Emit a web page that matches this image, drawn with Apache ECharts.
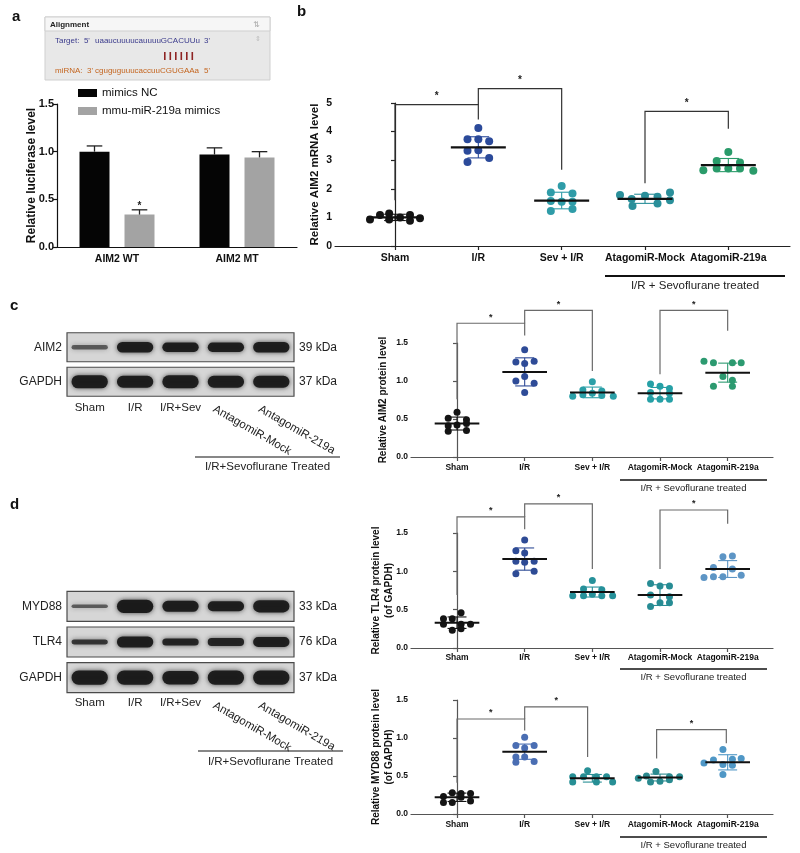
<!DOCTYPE html>
<html><head><meta charset="utf-8">
<script src="https://cdn.jsdelivr.net/npm/echarts@6/dist/echarts.min.js"></script>
<style>html,body{margin:0;padding:0;background:#fff}#c{width:800px;height:853px}</style>
</head><body><div id="c"></div>
<script>
const FONT = '"Liberation Sans", Arial, Helvetica, sans-serif';

// ---------- shared labels ----------
const groupLabels = ['Sham', 'I/R', 'Sev + I/R', 'AtagomiR-Mock', 'AtagomiR-219a'];
const laneLabels = ['Sham', 'I/R', 'I/R+Sev', 'AntagomiR-Mock', 'AntagomiR-219a'];
const proteinTicks = ['0.0', '0.5', '1.0', '1.5'];
const mrnaTicks = ['0', '1', '2', '3', '4', '5'];

// ---------- panel a ----------
const lucCategories = ['AIM2 WT', 'AIM2 MT'];
const lucNC = [1.00, 0.97];
const lucNCErr = [0.06, 0.07];
const lucMimics = [0.34, 0.94];
const lucMimicsErr = [0.05, 0.06];
const lucSig = [1, 0];

// ---------- panel b : AIM2 mRNA ----------
const mrnaVals = [
  [0.93, 1.08, 1.14, 0.93, 1.00, 1.08, 0.88, 0.97],
  [4.13, 3.73, 3.73, 3.66, 3.33, 3.35, 2.94, 3.08],
  [2.10, 1.87, 1.84, 1.57, 1.55, 1.55, 1.22, 1.29],
  [1.78, 1.64, 1.76, 1.72, 1.87, 1.40, 1.49, 1.60],
  [3.29, 2.97, 2.92, 2.65, 2.71, 2.71, 2.71, 2.63]];
const mrnaJitter = [
  [-0.30, -0.18, -0.07, -0.07, 0.06, 0.18, 0.18, 0.30],
  [0, -0.13, 0, 0.13, -0.13, 0, -0.13, 0.13],
  [0, -0.13, 0.13, -0.13, 0, 0.13, -0.13, 0.13],
  [-0.30, -0.16, 0, 0.15, 0.30, -0.15, 0.15, 0.30],
  [0, -0.14, 0.14, -0.30, -0.14, 0, 0.14, 0.30]];
const mrnaMean = [1.00, 3.45, 1.59, 1.65, 2.83];
const mrnaSD = [0.11, 0.37, 0.29, 0.16, 0.23];
const mrnaBrackets = [[0, 1.60, 1, 4.42, 4.94], [1, 4.94, 2, 2.67, 5.50], [3, 2.19, 4, 4.10, 4.71]];

// ---------- panel c : AIM2 protein ----------
const aim2Vals = [
  [0.59, 0.51, 0.49, 0.41, 0.42, 0.44, 0.34, 0.35],
  [1.41, 1.25, 1.23, 1.26, 1.00, 1.06, 0.97, 0.85],
  [0.99, 0.88, 0.87, 0.80, 0.82, 0.84, 0.81, 0.80],
  [0.96, 0.93, 0.90, 0.85, 0.84, 0.76, 0.76, 0.76],
  [1.26, 1.24, 1.24, 1.24, 1.06, 1.01, 0.93, 0.93]];
const aim2Jitter = [
  [0, -0.13, 0.14, -0.13, 0, 0.14, -0.13, 0.14],
  [0, -0.13, 0, 0.14, -0.13, 0, 0.14, 0],
  [0, -0.14, 0.14, -0.29, -0.14, 0, 0.14, 0.31],
  [-0.14, 0, 0.14, -0.14, 0.14, -0.14, 0, 0.14],
  [-0.35, -0.21, 0.07, 0.20, -0.07, 0.07, -0.21, 0.07]];
const aim2Mean = [0.44, 1.12, 0.85, 0.84, 1.11];
const aim2SD = [0.085, 0.185, 0.07, 0.075, 0.125];
const aim2Brackets = [[0, 0.76, 1, 1.60, 1.76], [1, 1.76, 2, 1.13, 1.93], [3, 1.09, 4, 1.66, 1.93]];

// ---------- panel d : TLR4 ----------
const tlr4Vals = [
  [0.46, 0.38, 0.38, 0.31, 0.31, 0.31, 0.23, 0.25],
  [1.41, 1.27, 1.24, 1.13, 1.12, 1.13, 0.97, 1.00],
  [0.88, 0.77, 0.76, 0.68, 0.68, 0.70, 0.68, 0.68],
  [0.84, 0.81, 0.81, 0.69, 0.67, 0.54, 0.59, 0.59],
  [1.19, 1.20, 1.05, 1.03, 0.92, 0.93, 0.93, 0.95]];
const tlr4Jitter = [
  [0.06, -0.20, -0.07, -0.20, 0.06, 0.20, -0.07, 0.06],
  [0, -0.13, 0, -0.13, 0, 0.14, -0.13, 0.14],
  [0, -0.13, 0.14, -0.29, -0.13, 0, 0.14, 0.30],
  [-0.14, 0, 0.14, -0.14, 0.14, -0.14, 0, 0.14],
  [-0.07, 0.07, -0.21, 0.07, -0.35, -0.21, -0.07, 0.20]];
const tlr4Mean = [0.33, 1.16, 0.73, 0.69, 1.03];
const tlr4SD = [0.075, 0.145, 0.065, 0.135, 0.11];
const tlr4Brackets = [[0, 0.69, 1, 1.55, 1.71], [1, 1.71, 2, 1.03, 1.88], [3, 1.03, 4, 1.62, 1.80]];

// ---------- panel d : MYD88 ----------
const myd88Vals = [
  [0.28, 0.27, 0.27, 0.23, 0.22, 0.15, 0.15, 0.17],
  [1.01, 0.90, 0.90, 0.87, 0.75, 0.75, 0.68, 0.69],
  [0.57, 0.49, 0.49, 0.49, 0.49, 0.42, 0.42, 0.42],
  [0.56, 0.50, 0.49, 0.49, 0.47, 0.42, 0.43, 0.45],
  [0.85, 0.71, 0.72, 0.73, 0.67, 0.65, 0.64, 0.52]];
const myd88Jitter = [
  [-0.07, 0.06, 0.20, -0.20, 0.06, -0.20, -0.07, 0.20],
  [0, -0.13, 0.14, 0, -0.13, 0, -0.13, 0.14],
  [-0.07, -0.29, -0.13, 0.06, 0.21, -0.29, 0.06, 0.30],
  [-0.06, -0.20, 0.14, 0.29, -0.32, -0.14, 0, 0.14],
  [-0.07, -0.21, 0.07, 0.20, -0.35, -0.07, 0.07, -0.07]];
const myd88Mean = [0.22, 0.82, 0.47, 0.48, 0.68];
const myd88SD = [0.055, 0.10, 0.05, 0.045, 0.10];
const myd88Brackets = [[0, 0.41, 1, 1.10, 1.25], [1, 1.25, 1.93, 0.75, 1.41], [2.95, 0.73, 3.98, 0.93, 1.11]];

// ---------- western blots (band thickness / intensity per lane) ----------
const blotCRows = ['AIM2', 'GAPDH'];
const blotCSizes = ['39 kDa', '37 kDa'];
const blotCThick = [[0.13, 0.31, 0.27, 0.27, 0.30], [0.38, 0.35, 0.37, 0.35, 0.35]];
const blotCDark = [[0.6, 0.95, 0.95, 0.95, 0.95], [0.95, 0.95, 0.95, 0.95, 0.95]];
const blotDRows = ['MYD88', 'TLR4', 'GAPDH'];
const blotDSizes = ['33 kDa', '76 kDa', '37 kDa'];
const blotDThick = [[0.10, 0.37, 0.31, 0.28, 0.34], [0.14, 0.31, 0.20, 0.22, 0.28], [0.40, 0.40, 0.38, 0.40, 0.40]];
const blotDDark = [[0.6, 0.97, 0.95, 0.95, 0.95], [0.8, 0.95, 0.9, 0.9, 0.95], [0.95, 0.95, 0.95, 0.95, 0.95]];

// ---------- colours ----------
const colB = ['#141414', '#2b4a9a', '#2f9ca8', '#2a8f9a', '#2a9b6a'];
const colC = ['#141414', '#2e4b97', '#2ba0a8', '#26a0a6', '#2c9a70'];
const colT = ['#141414', '#2e4b95', '#26919a', '#278c94', '#5d95c5'];
const colM = ['#141414', '#4a6eb3', '#278f95', '#2a8a8f', '#4f97c6'];

// ================= builders =================
function valueXAxis(gi, min, max, fs, margin, col) {
  return {
    type: 'value', gridIndex: gi, min: min, max: max, splitLine: { show: false },
    axisLine: { show: true, onZero: false, lineStyle: { color: col, width: 1.2 } },
    axisTick: { show: true, customValues: [0, 1, 2, 3, 4], length: 4, lineStyle: { color: col, width: 1.2 } },
    axisLabel: {
      show: true, customValues: [0, 1, 2, 3, 4], formatter: v => groupLabels[Math.round(v)],
      fontSize: fs, fontWeight: 'bold', color: '#111', fontFamily: FONT, margin: margin
    }
  };
}
function valueYAxis(gi, max, interval, ticks, fs, name, nameFs, nameGap, col) {
  return {
    type: 'value', gridIndex: gi, min: 0, max: max, interval: interval,
    splitLine: { show: false },
    axisLine: { show: true, lineStyle: { color: col, width: 1.2 } },
    axisTick: { show: true, length: 4, lineStyle: { color: col, width: 1.2 } },
    axisLabel: { fontSize: fs, fontWeight: 'bold', color: '#111', fontFamily: FONT, margin: 3,
      formatter: v => ticks[Math.round(v / interval)] },
    name: name, nameLocation: 'middle', nameGap: nameGap, nameMoveOverlap: false,
    nameTextStyle: { fontSize: nameFs, fontWeight: 'bold', color: '#111', fontFamily: FONT, lineHeight: nameFs + 3 }
  };
}
function scatterSeries(ax, vals, jitter, means, sds, colors, brackets, o) {
  const s = [];
  vals.forEach((arr, g) => {
    s.push({
      type: 'scatter', xAxisIndex: ax, yAxisIndex: ax, symbolSize: o.dot, silent: true, z: 3,
      itemStyle: { color: colors[g], opacity: 1 },
      data: arr.map((v, i) => [g + jitter[g][i], v])
    });
  });
  s.push({
    type: 'custom', xAxisIndex: ax, yAxisIndex: ax, z: 4, silent: true,
    data: means.map((m, g) => [g, m, sds[g]]),
    renderItem: (params, api) => {
      const g = api.value(0), m = api.value(1), sd = api.value(2);
      const col = colors[params.dataIndex];
      const top = api.coord([g, m + sd]), bot = api.coord([g, m - sd]);
      const tl = api.coord([g - o.cap, m + sd]), tr = api.coord([g + o.cap, m + sd]);
      const bl = api.coord([g - o.cap, m - sd]), br = api.coord([g + o.cap, m - sd]);
      const ml = api.coord([g - o.meanW, m]), mr = api.coord([g + o.meanW, m]);
      const ls = { stroke: col, lineWidth: 1.1 };
      return { type: 'group', children: [
        { type: 'line', shape: { x1: top[0], y1: top[1], x2: bot[0], y2: bot[1] }, style: ls },
        { type: 'line', shape: { x1: tl[0], y1: tl[1], x2: tr[0], y2: tr[1] }, style: ls },
        { type: 'line', shape: { x1: bl[0], y1: bl[1], x2: br[0], y2: br[1] }, style: ls },
        { type: 'line', shape: { x1: ml[0], y1: ml[1], x2: mr[0], y2: mr[1] }, style: { stroke: '#111', lineWidth: o.meanLW } }
      ] };
    }
  });
  s.push({
    type: 'custom', xAxisIndex: ax, yAxisIndex: ax, z: 2, silent: true, clip: false,
    data: brackets,
    renderItem: (params, api) => {
      const x1 = api.value(0), y1 = api.value(1), x2 = api.value(2), y2 = api.value(3), yt = api.value(4);
      const p1 = api.coord([x1, y1]), p2 = api.coord([x1, yt]), p3 = api.coord([x2, yt]), p4 = api.coord([x2, y2]);
      return { type: 'group', children: [
        { type: 'polyline', shape: { points: [p1, p2, p3, p4] }, style: { stroke: o.brCol, lineWidth: 1.2, fill: null } },
        { type: 'text', x: (p2[0] + p3[0]) / 2, y: p2[1] - o.starGap,
          style: { text: '*', font: 'bold ' + o.starFs + 'px ' + FONT, fill: '#222', align: 'center', verticalAlign: 'middle' } }
      ] };
    }
  });
  return s;
}
function blotSeries(ax, thick, dark, rows) {
  const boxes = {
    type: 'custom', xAxisIndex: ax, yAxisIndex: ax, silent: true, z: 1,
    data: rows.map((r, i) => [0, i]),
    renderItem: (params, api) => {
      const cs = params.coordSys;
      const cy = api.coord([0, api.value(1)])[1];
      const h = api.size([0, 1])[1] * 0.84;
      return { type: 'rect', shape: { x: cs.x, y: cy - h / 2, width: cs.width, height: h },
        style: { fill: '#d6d6d6', stroke: '#4a4a4a', lineWidth: 1.2 } };
    }
  };
  const bandData = [];
  thick.forEach((row, r) => row.forEach((t, l) => bandData.push([l, r, t, dark[r][l]])));
  const bands = {
    type: 'custom', xAxisIndex: ax, yAxisIndex: ax, silent: true, z: 2,
    data: bandData,
    renderItem: (params, api) => {
      const c = api.coord([api.value(0), api.value(1)]);
      const lw = api.size([1, 0])[0] * 0.80;
      const h = api.size([0, 1])[1] * api.value(2);
      const a = api.value(3);
      return { type: 'rect', shape: { x: c[0] - lw / 2, y: c[1] - h / 2, width: lw, height: h, r: h / 2 },
        style: { fill: 'rgba(25,25,25,' + a + ')', shadowBlur: 5, shadowColor: 'rgba(40,40,40,' + (a * 0.9) + ')' } };
    }
  };
  const rotLabels = {
    type: 'custom', xAxisIndex: ax, yAxisIndex: ax, silent: true, z: 3, clip: false,
    data: [[3, 0], [4, 0]],
    renderItem: (params, api) => {
      const c = api.coord([api.value(0), 0]);
      const cs = params.coordSys;
      return { type: 'text', x: c[0] - 9, y: cs.y + cs.height + 4, rotation: -Math.PI / 6,
        style: { text: laneLabels[api.value(0)], font: '11.5px ' + FONT, fill: '#222', align: 'left', verticalAlign: 'top' } };
    }
  };
  return [boxes, bands, rotLabels];
}
function blotAxes(gi, rows, sizes, margin) {
  const x = {
    type: 'category', gridIndex: gi, data: laneLabels, boundaryGap: true,
    axisLine: { show: false }, axisTick: { show: false },
    axisLabel: { formatter: (v, i) => (i < 3 ? v : ''), fontSize: 11.5, color: '#222', fontFamily: FONT, margin: margin, interval: 0 }
  };
  const yl = {
    type: 'category', gridIndex: gi, data: rows, inverse: true, position: 'left',
    axisLine: { show: false }, axisTick: { show: false },
    axisLabel: { fontSize: 12, color: '#222', fontFamily: FONT, margin: 5 }
  };
  const yr = {
    type: 'category', gridIndex: gi, data: sizes, inverse: true, position: 'right',
    axisLine: { show: false }, axisTick: { show: false },
    axisLabel: { fontSize: 12, color: '#222', fontFamily: FONT, margin: 5 }
  };
  return { x, yl, yr };
}

// ================= option =================
const bc = blotAxes(5, blotCRows, blotCSizes, 3);
const bd = blotAxes(6, blotDRows, blotDSizes, 1);

const xAxes = [
  { type: 'category', gridIndex: 0, data: lucCategories,
    axisLine: { lineStyle: { color: '#111', width: 1.2 } },
    axisTick: { alignWithLabel: true, length: 4, lineStyle: { color: '#111', width: 1.2 } },
    axisLabel: { fontSize: 10.5, fontWeight: 'bold', color: '#111', fontFamily: FONT, margin: 7 } },
  valueXAxis(1, -0.72, 4.74, 10.5, 7, '#222'),
  valueXAxis(2, -0.68, 4.67, 8.5, 6, '#555'),
  valueXAxis(3, -0.68, 4.67, 8.5, 5, '#555'),
  valueXAxis(4, -0.68, 4.67, 8.5, 6, '#555'),
  bc.x, bd.x
];
const yAxes = [
  valueYAxis(0, 1.5, 0.5, proteinTicks, 11, 'Relative luciferase level', 12, 18, '#111'),
  valueYAxis(1, 5, 1, mrnaTicks, 10.5, 'Relative AIM2 mRNA level', 11.5, 13, '#222'),
  valueYAxis(2, 1.5, 0.5, proteinTicks, 8.5, 'Relative AIM2 protein level', 10, 21, '#555'),
  valueYAxis(3, 1.5, 0.5, proteinTicks, 8.5, 'Relative TLR4 protein level\n(of GAPDH)', 10, 15, '#555'),
  valueYAxis(4, 1.5, 0.5, proteinTicks, 8.5, 'Relative MYD88 protein level\n(of GAPDH)', 10, 15, '#555'),
  bc.yl, bd.yl, bc.yr, bd.yr
];
const series = [];
series.push({ name: 'mimics NC', type: 'bar', xAxisIndex: 0, yAxisIndex: 0, data: lucNC, barWidth: 30, barGap: '50%',
  itemStyle: { color: '#050505' }, silent: true });
series.push({ name: 'mmu-miR-219a mimics', type: 'bar', xAxisIndex: 0, yAxisIndex: 0, data: lucMimics, barWidth: 30, barGap: '50%',
  itemStyle: { color: '#a3a3a3' }, silent: true });
const errData = [];
lucCategories.forEach((c, i) => {
  errData.push([i, lucNC[i], lucNCErr[i], -1, 0]);
  errData.push([i, lucMimics[i], lucMimicsErr[i], 1, lucSig[i]]);
});
series.push({
  type: 'custom', xAxisIndex: 0, yAxisIndex: 0, silent: true, z: 3, data: errData,
  renderItem: (params, api) => {
    const i = api.value(0), v = api.value(1), e = api.value(2), side = api.value(3), sig = api.value(4);
    const bw = api.size([1, 0])[0];
    const off = side * bw * 0.1875;
    const p = api.coord([i, v]), q = api.coord([i, v + e]);
    const x = p[0] + off, cw = bw * 0.065;
    const ch = [
      { type: 'line', shape: { x1: x, y1: p[1], x2: x, y2: q[1] }, style: { stroke: '#222', lineWidth: 1.3 } },
      { type: 'line', shape: { x1: x - cw, y1: q[1], x2: x + cw, y2: q[1] }, style: { stroke: '#222', lineWidth: 1.3 } }
    ];
    if (sig) ch.push({ type: 'text', x: x, y: q[1] - 4, style: { text: '*', font: 'bold 10px ' + FONT, fill: '#222', align: 'center', verticalAlign: 'middle' } });
    return { type: 'group', children: ch };
  }
});
series.push(...scatterSeries(1, mrnaVals, mrnaJitter, mrnaMean, mrnaSD, colB, mrnaBrackets,
  { dot: 8, cap: 0.13, meanW: 0.33, meanLW: 2.3, brCol: '#333', starGap: 8, starFs: 10 }));
series.push(...scatterSeries(2, aim2Vals, aim2Jitter, aim2Mean, aim2SD, colC, aim2Brackets,
  { dot: 7, cap: 0.14, meanW: 0.33, meanLW: 2, brCol: '#6a6a6a', starGap: 6, starFs: 9 }));
series.push(...scatterSeries(3, tlr4Vals, tlr4Jitter, tlr4Mean, tlr4SD, colT, tlr4Brackets,
  { dot: 7, cap: 0.14, meanW: 0.33, meanLW: 2, brCol: '#6a6a6a', starGap: 6, starFs: 9 }));
series.push(...scatterSeries(4, myd88Vals, myd88Jitter, myd88Mean, myd88SD, colM, myd88Brackets,
  { dot: 7, cap: 0.14, meanW: 0.33, meanLW: 2, brCol: '#6a6a6a', starGap: 6, starFs: 9 }));
const sc = blotSeries(5, blotCThick, blotCDark, blotCRows);
const sd = blotSeries(6, blotDThick, blotDDark, blotDRows);
series.push(...sc, ...sd);
series.push({ type: 'scatter', xAxisIndex: 5, yAxisIndex: 7, data: [], silent: true });
series.push({ type: 'scatter', xAxisIndex: 6, yAxisIndex: 8, data: [], silent: true });

function treatedNote(x1, x2, y, ty, fs, text, lw) {
  return [
    { type: 'line', shape: { x1: x1, y1: y, x2: x2, y2: y }, style: { stroke: '#111', lineWidth: lw } },
    { type: 'text', x: (x1 + x2) / 2, y: ty, style: { text: text, font: fs + 'px ' + FONT, fill: '#222', align: 'center', verticalAlign: 'middle' } }
  ];
}
const letter = (t, x, y) => ({ type: 'text', x: x, y: y, style: { text: t, font: 'bold 15px ' + FONT, fill: '#111', verticalAlign: 'middle' } });
const matchBars = [];
for (let i = 0; i < 6; i++) matchBars.push({ type: 'rect', shape: { x: 164 + i * 5.5, y: 52, width: 1.6, height: 8 }, style: { fill: '#8e2424' } });

const graphic = [
  letter('a', 12, 17), letter('b', 297, 12), letter('c', 10, 306), letter('d', 10, 505),
  { type: 'rect', shape: { x: 45, y: 17, width: 225, height: 63 }, style: { fill: '#e8e8e8', stroke: '#cfcfcf', lineWidth: 1 } },
  { type: 'rect', shape: { x: 45, y: 17, width: 225, height: 14 }, style: { fill: '#f6f6f6', stroke: '#cfcfcf', lineWidth: 1 } },
  { type: 'text', x: 50, y: 24.5, style: { text: 'Alignment', font: 'bold 8px ' + FONT, fill: '#222', verticalAlign: 'middle' } },
  { type: 'text', x: 253, y: 24.5, style: { text: '⇅', font: '8px "DejaVu Sans"', fill: '#aaa', verticalAlign: 'middle' } },
  { type: 'text', x: 255, y: 39, style: { text: '⇕', font: '7px "DejaVu Sans"', fill: '#bbb', verticalAlign: 'middle' } },
  { type: 'text', x: 55, y: 41, style: { text: "Target:  5'", font: '8px ' + FONT, fill: '#3b3b8c', verticalAlign: 'middle' } },
  { type: 'text', x: 95, y: 41, style: { text: 'uaaucuuuucauuuuGCACUUu', font: '8px ' + FONT, fill: '#3b3b8c', verticalAlign: 'middle' } },
  { type: 'text', x: 204, y: 41, style: { text: "3'", font: '8px ' + FONT, fill: '#3b3b8c', verticalAlign: 'middle' } },
  ...matchBars,
  { type: 'text', x: 55, y: 71, style: { text: "miRNA:  3'", font: '8px ' + FONT, fill: '#c4651f', verticalAlign: 'middle' } },
  { type: 'text', x: 95, y: 71, style: { text: 'cguguguuucaccuuCGUGAAa', font: '8px ' + FONT, fill: '#c4651f', verticalAlign: 'middle' } },
  { type: 'text', x: 204, y: 71, style: { text: "5'", font: '8px ' + FONT, fill: '#c4651f', verticalAlign: 'middle' } },
  ...treatedNote(605, 785, 276, 286, 11.5, 'I/R + Sevoflurane treated', 2),
  ...treatedNote(620, 767, 480, 488, 9.5, 'I/R + Sevoflurane treated', 1.6),
  ...treatedNote(620, 767, 669, 677, 9.5, 'I/R + Sevoflurane treated', 1.6),
  ...treatedNote(620, 767, 837, 845, 9.5, 'I/R + Sevoflurane treated', 1.6),
  ...treatedNote(195, 340, 457, 467, 11.5, 'I/R+Sevoflurane Treated', 1.2),
  ...treatedNote(198, 343, 751, 762, 11.5, 'I/R+Sevoflurane Treated', 1.2)
];

const option = {
  animation: false,
  backgroundColor: '#fff',
  textStyle: { fontFamily: FONT },
  grid: [
    { left: 57, top: 104, width: 240, height: 143 },
    { left: 335, top: 103, width: 455, height: 143 },
    { left: 411, top: 343, width: 362, height: 114 },
    { left: 411, top: 533, width: 362, height: 115 },
    { left: 411, top: 700, width: 362, height: 114 },
    { left: 67, top: 330, width: 227, height: 69 },
    { left: 67, top: 588.5, width: 227, height: 107 }
  ],
  legend: {
    data: ['mimics NC', 'mmu-miR-219a mimics'], orient: 'vertical', left: 78, top: 87,
    icon: 'rect', itemWidth: 19, itemHeight: 8, itemGap: 6, padding: 0, selectedMode: false,
    textStyle: { fontSize: 11.5, color: '#111', fontFamily: FONT }
  },
  xAxis: xAxes,
  yAxis: yAxes,
  series: series,
  graphic: graphic
};
const chart = echarts.init(document.getElementById('c'), null, { renderer: 'canvas' });
chart.setOption(option);
</script></body></html>
